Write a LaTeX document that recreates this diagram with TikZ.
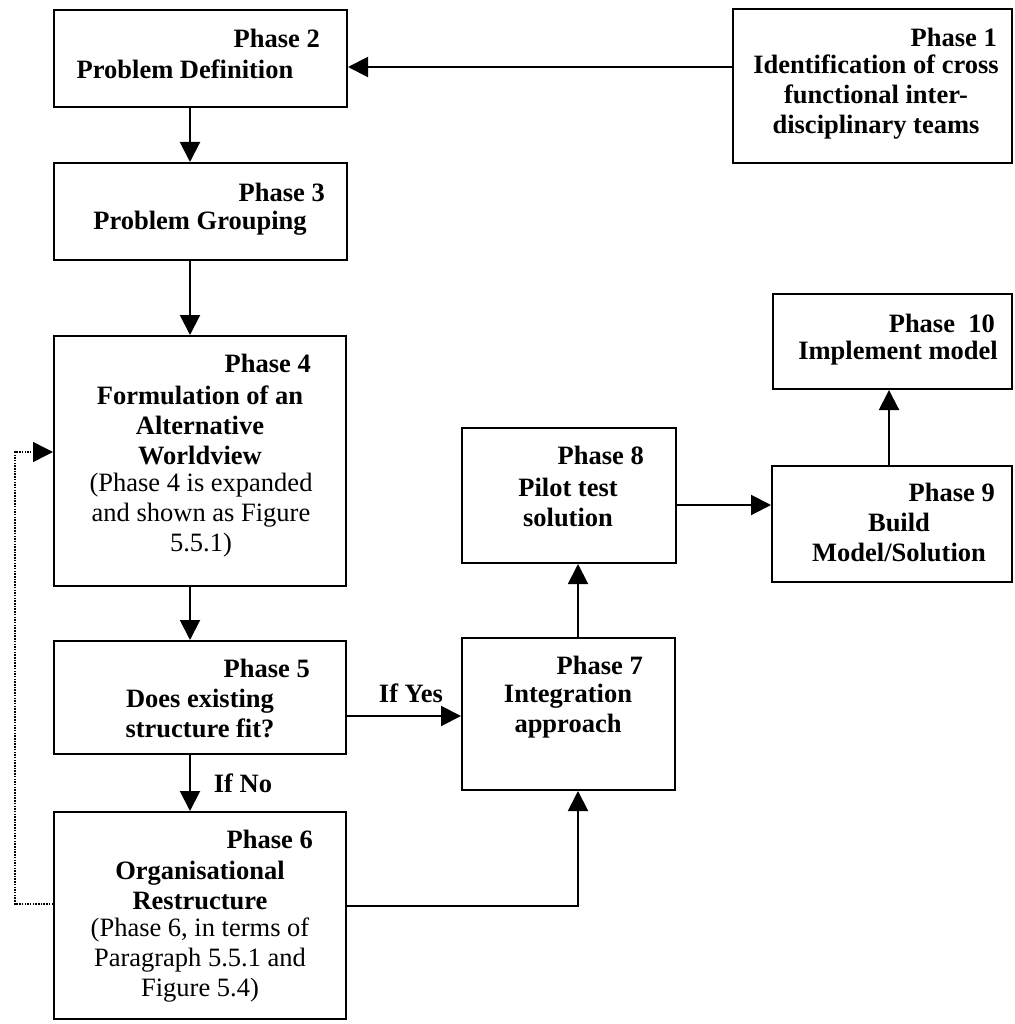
\documentclass[tikz,border=0pt]{standalone}
\usepackage{fontspec}
\setmainfont{Liberation Serif}
\usetikzlibrary{arrows.meta}
\begin{document}
\begin{tikzpicture}[x=1pt,y=-1pt,
  box/.style={draw, line width=2pt, inner sep=0pt},
  head/.style={anchor=east, inner sep=0pt, font=\fontsize{26.5}{30}\selectfont\bfseries},
  body/.style={align=center, inner sep=0pt, font=\fontsize{26.5}{30}\selectfont\bfseries},
  note/.style={align=center, inner sep=0pt, font=\fontsize{26.5}{30}\selectfont},
  arr/.style={line width=2pt, -{Triangle[length=20pt,width=20pt]}},
  loopline/.style={line width=1.5pt, dash pattern=on 1.5pt off 1.2pt, -{Triangle[length=20pt,width=20pt]}}
]
\useasboundingbox (0,0) rectangle (1014,1024);

% boxes
\node[box, minimum width=293pt, minimum height=97pt]  (p2)  at (200.5,58.5) {};
\node[box, minimum width=279pt, minimum height=154pt] (p1)  at (872.5,86) {};
\node[box, minimum width=293pt, minimum height=97pt]  (p3)  at (200.5,211.5) {};
\node[box, minimum width=292pt, minimum height=250pt] (p4)  at (200,461) {};
\node[box, minimum width=292pt, minimum height=113pt] (p5)  at (200,697.5) {};
\node[box, minimum width=292pt, minimum height=207pt] (p6)  at (200,915.5) {};
\node[box, minimum width=213pt, minimum height=152pt] (p7)  at (568.5,714) {};
\node[box, minimum width=214pt, minimum height=135pt] (p8)  at (569,495.5) {};
\node[box, minimum width=240pt, minimum height=116pt] (p9)  at (892,524) {};
\node[box, minimum width=239pt, minimum height=95pt]  (p10) at (892.5,341.5) {};

% texts
\node[head] (h1) at (997,37) {Phase 1};
\node[body] (t1) at (876,97.5) {Identification of cross\\functional inter-\\disciplinary teams};
\node[head] (h2) at (320,38) {Phase 2};
\node[body] (t2) at (185,69) {Problem Definition};
\node[head] (h3) at (325,192) {Phase 3};
\node[body] (t3) at (200,223) {Problem Grouping};
\node[head] (h4) at (311,363) {Phase 4};
\node[body] (t4) at (200,425) {Formulation of an\\Alternative\\Worldview};
\node[note] (n4) at (201,515) {(Phase 4 is expanded\\and shown as Figure\\5.5.1)};
\node[head] (h5) at (310,668) {Phase 5};
\node[body] (t5) at (200,713) {Does existing\\structure fit?};
\node[head] (h6) at (313,839) {Phase 6};
\node[body] (t6) at (200,885) {Organisational\\Restructure};
\node[note] (n6) at (200,960) {(Phase 6, in terms of\\Paragraph 5.5.1 and\\Figure 5.4)};
\node[head] (h7) at (643,665) {Phase 7};
\node[body] (t7) at (568,711) {Integration\\approach};
\node[head] (h8) at (644,455) {Phase 8};
\node[body] (t8) at (568,502) {Pilot test\\solution};
\node[head] (h9) at (995,492) {Phase 9};
\node[body] (t9) at (899,537) {Build\\Model/Solution};
\node[head] (h10) at (995,323) {Phase\ \ 10};
\node[body] (t10) at (898,353) {Implement model};

\node[body] (yes) at (411,693) {If Yes};
\node[body] (no)  at (243,783) {If No};

% guide coordinates for connector routes
\coordinate (colA) at (190,0);
\coordinate (colB) at (578,0);
\coordinate (colC) at (889,0);
\coordinate (rowA) at (0,67);
\coordinate (rowB) at (0,716);
\coordinate (rowC) at (0,906);
\coordinate (rowD) at (0,505);
\coordinate (loopB) at (15,904);
\coordinate (loopT) at (15,452);

% connectors
\draw[arr] (p1.west |- rowA) -- (p2.east |- rowA);
\draw[arr] (p2.south -| colA) -- (p3.north -| colA);
\draw[arr] (p3.south -| colA) -- (p4.north -| colA);
\draw[arr] (p4.south -| colA) -- (p5.north -| colA);
\draw[arr] (p5.south -| colA) -- (p6.north -| colA);
\draw[arr] (p5.east |- rowB) -- (p7.west |- rowB);
\draw[arr] (p6.east |- rowC) -| (p7.south -| colB);
\draw[arr] (p7.north -| colB) -- (p8.south -| colB);
\draw[arr] (p8.east |- rowD) -- (p9.west |- rowD);
\draw[arr] (p9.north -| colC) -- (p10.south -| colC);
\draw[loopline] (p6.west |- loopB) -- (loopB) -- (loopT) -- (p4.west |- loopT);
\end{tikzpicture}
\end{document}
